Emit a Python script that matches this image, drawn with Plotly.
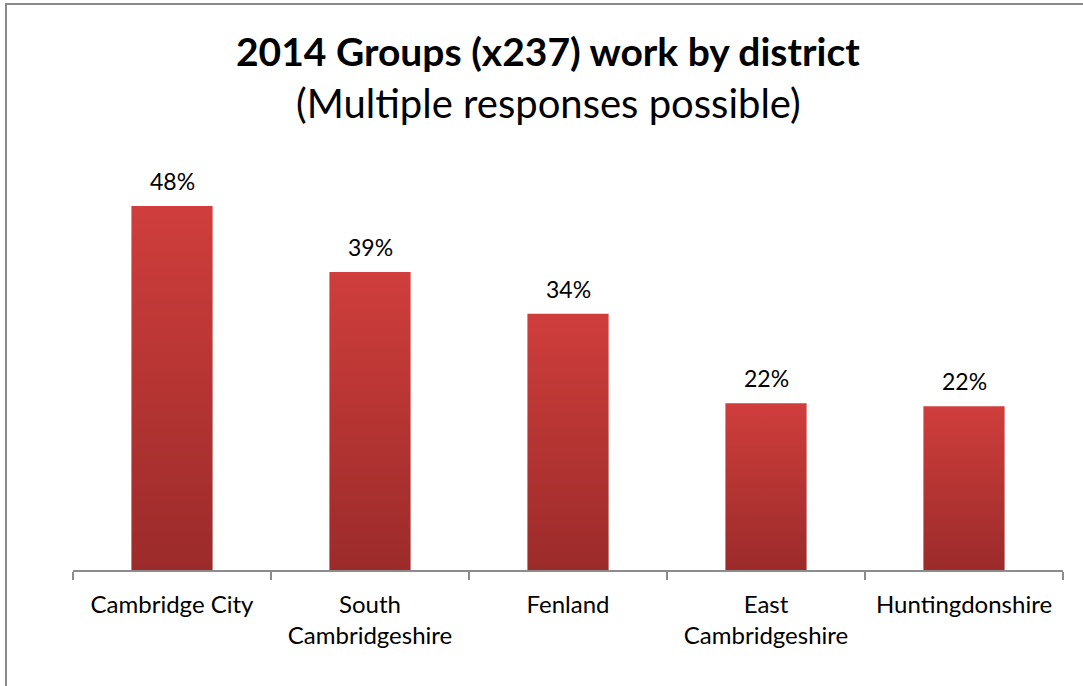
import plotly.graph_objects as go

# Share of groups working in each district (percent)
districts = ["Cambridge City", "South<br>Cambridgeshire", "Fenland",
             "East<br>Cambridgeshire", "Huntingdonshire"]
shares = [48.0, 39.3, 33.8, 22.0, 21.6]

TITLE = "2014 Groups (x237) work by district"
SUBTITLE = "(Multiple responses possible)"

W, H = 1083, 686
M_L, M_R, M_T, M_B = 73, 20, 115, 116
Y_MAX = 60
BAR_W = 0.41
FONT = "Lato, 'Open Sans', sans-serif"

fig = go.Figure()

positions = list(range(len(districts)))

# Bars: filled polygons with a vertical gradient (dark base, lighter top)
for i, v in zip(positions, shares):
    x0, x1 = i - BAR_W / 2, i + BAR_W / 2
    fig.add_trace(go.Scatter(
        x=[x0, x1, x1, x0, x0],
        y=[0, 0, v, v, 0],
        mode="lines",
        line=dict(width=0),
        fill="toself",
        fillgradient=dict(
            type="vertical",
            start=0, stop=v,
            colorscale=[[0, "#9B2B2A"], [1, "#CF3E3C"]],
        ),
        hoverinfo="skip",
        showlegend=False,
    ))

# Value labels above each bar
for i, v in zip(positions, shares):
    fig.add_annotation(
        x=i, y=v,
        text=f"{v:.0f}%",
        showarrow=False,
        yshift=25,
        xanchor="center", yanchor="middle",
        font=dict(family=FONT, size=23, color="#000000"),
    )

boundaries = [p - 0.5 for p in positions] + [positions[-1] + 0.5]

fig.update_xaxes(
    range=[-0.5, len(districts) - 0.5],
    tickmode="array",
    tickvals=positions,
    ticktext=districts,
    ticks="",
    ticklabelstandoff=12,
    tickfont=dict(family=FONT, size=24, color="#000000"),
    showline=True,
    linecolor="#8C8C8C",
    linewidth=1.5,
    showgrid=False,
    zeroline=False,
    fixedrange=True,
    minor=dict(tickmode="array", tickvals=boundaries, ticks="outside",
               ticklen=8, tickcolor="#8C8C8C", tickwidth=1.5),
)
fig.update_yaxes(
    range=[0, Y_MAX],
    visible=False,
    showgrid=False,
    zeroline=False,
    fixedrange=True,
)

# Chart frame (only left and top edges fall inside the page)
plot_w = W - M_L - M_R
plot_h = H - M_T - M_B
fig.add_shape(
    type="rect", xref="paper", yref="paper",
    x0=(6 - M_L) / plot_w, x1=1.2,
    y0=-0.5, y1=(H - M_B - 4) / plot_h,
    line=dict(color="#8A8A8A", width=2),
    fillcolor="rgba(0,0,0,0)",
    layer="below",
)

fig.add_annotation(
    text=f"<b>{TITLE}</b>",
    xref="paper", yref="paper",
    x=(548 - M_L) / plot_w, y=(H - M_B - 51) / plot_h,
    showarrow=False,
    font=dict(family=FONT, size=39, color="#000000"),
    xanchor="center", yanchor="middle",
)
fig.add_annotation(
    text=SUBTITLE,
    xref="paper", yref="paper",
    x=(548 - M_L) / plot_w, y=(H - M_B - 103) / plot_h,
    showarrow=False,
    font=dict(family=FONT, size=40, color="#000000"),
    xanchor="center", yanchor="middle",
)

fig.update_layout(
    width=W, height=H,
    margin=dict(l=M_L, r=M_R, t=M_T, b=M_B),
    paper_bgcolor="#FFFFFF",
    plot_bgcolor="#FFFFFF",
    showlegend=False,
)

fig.write_html("out.html")
